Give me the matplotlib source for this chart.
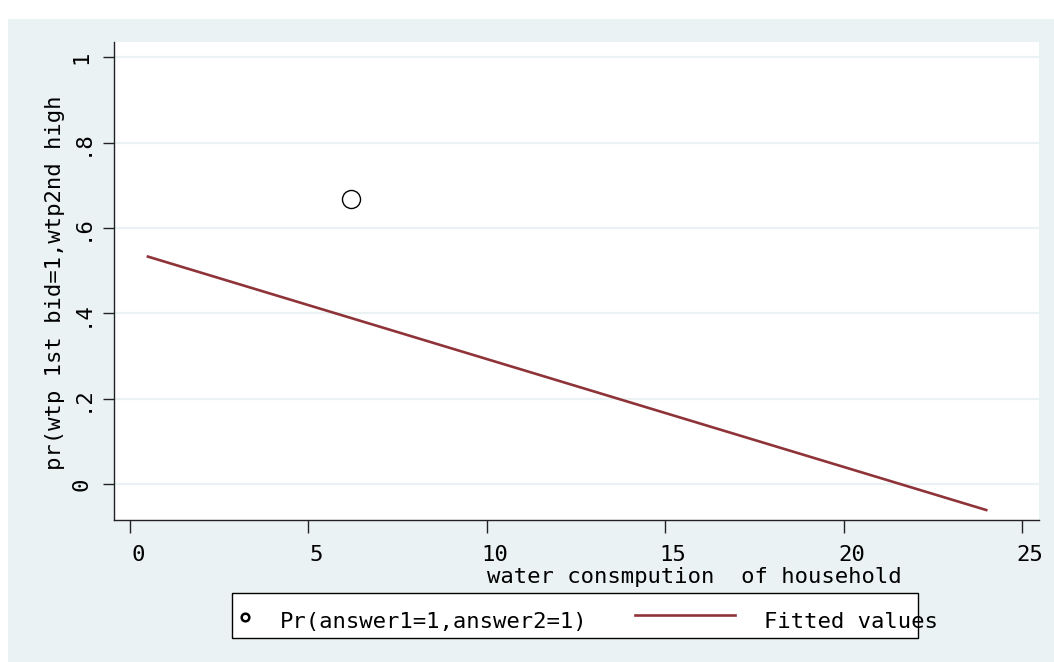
import matplotlib
matplotlib.use("Agg")
import matplotlib.pyplot as plt
from matplotlib.patches import Rectangle
from matplotlib.lines import Line2D
from matplotlib.transforms import ScaledTranslation

# ---- data ----
obs_x = [6.2]
obs_y = [0.667]
fit_x = [0.5, 24.0]
fit_y = [0.533, -0.061]
xticks = [0, 5, 10, 15, 20, 25]
xtick_labels = ["0", "5", "10", "15", "20", "25"]
yticks = [0, 0.2, 0.4, 0.6, 0.8, 1.0]
ytick_labels = ["0", ".2", ".4", ".6", ".8", "1"]
xlabel = "water consmpution  of household"
ylabel = "pr(wtp 1st bid=1,wtp2nd high"
legend_labels = ["Pr(answer1=1,answer2=1)", "Fitted values"]

BG = "#EAF2F3"
RED = "#8E3439"
FONT = "DejaVu Sans Mono"
FS = 16

W, H = 1054, 662
fig = plt.figure(figsize=(W / 100, H / 100), dpi=100)
fig.patch.set_facecolor("white")

def fx(x):
    return x / W

def fy(y):
    return 1 - y / H

# outer Stata-style background
fig.patches.append(Rectangle((fx(8), 0), 1 - fx(8), fy(19), transform=fig.transFigure,
                             facecolor=BG, edgecolor="none", zorder=-5))

L, R, T, B = 114, 1039, 42, 520
ax = fig.add_axes([fx(L), fy(B), fx(R) - fx(L), fy(T) - fy(B)])
ax.set_zorder(1)
ax.set_facecolor("white")

ax.plot(fit_x, fit_y, color=RED, lw=1.9, zorder=3)
ax.plot(obs_x, obs_y, linestyle="none", marker="o", markersize=13,
        markerfacecolor="none", markeredgecolor="black", markeredgewidth=1.0, zorder=4)

ax.set_xlim(-0.45, 25.48)
ax.set_ylim(-0.0844, 1.036)

ax.set_xticks(xticks)
ax.set_xticklabels(xtick_labels, fontfamily=FONT, fontsize=FS)
ax.set_yticks(yticks)
ax.set_yticklabels(ytick_labels, fontfamily=FONT, fontsize=FS, rotation=90, va="center")

ax.grid(axis="y", color=BG, lw=1.6)
ax.grid(axis="x", visible=False)
ax.set_axisbelow(True)

for s in ["top", "right"]:
    ax.spines[s].set_visible(False)
for s in ["left", "bottom"]:
    ax.spines[s].set_color("#222222")
    ax.spines[s].set_linewidth(1.0)

ax.tick_params(axis="x", length=9, width=1, color="#222222", pad=9)
ax.tick_params(axis="y", length=8, width=1, color="#222222", pad=8)

off = ScaledTranslation(8 / 100, 0, fig.dpi_scale_trans)
for lab in ax.get_xticklabels():
    lab.set_transform(lab.get_transform() + off)

ax.set_xlabel(xlabel, fontfamily=FONT, fontsize=FS, va="center", ha="center")
ax.xaxis.set_label_coords((694 - L) / (R - L), (B - 577) / (B - T))
ax.set_ylabel(ylabel, fontfamily=FONT, fontsize=FS, va="center", ha="left")
ax.yaxis.set_label_coords((55 - L) / (R - L), (B - 470) / (B - T))

# legend (Stata-style, drawn in figure space)
fig.patches.append(Rectangle((fx(232), fy(638)), fx(918) - fx(232), fy(593) - fy(638),
                             transform=fig.transFigure, facecolor="white",
                             edgecolor="black", lw=1.0, zorder=5))
fig.lines.append(Line2D([fx(245)], [fy(617)], transform=fig.transFigure, marker="o",
                        markersize=5.5, markerfacecolor="none", markeredgecolor="black",
                        markeredgewidth=1.8, linestyle="none", zorder=6))
fig.lines.append(Line2D([fx(635), fx(735)], [fy(615), fy(615)], transform=fig.transFigure,
                        color=RED, lw=1.9, zorder=6))
fig.text(fx(280), fy(622), legend_labels[0], fontfamily=FONT, fontsize=FS,
         va="center", ha="left", zorder=7)
fig.text(fx(764), fy(622), legend_labels[1], fontfamily=FONT, fontsize=FS,
         va="center", ha="left", zorder=7)

fig.savefig("out.png", dpi=100, facecolor=fig.get_facecolor())
